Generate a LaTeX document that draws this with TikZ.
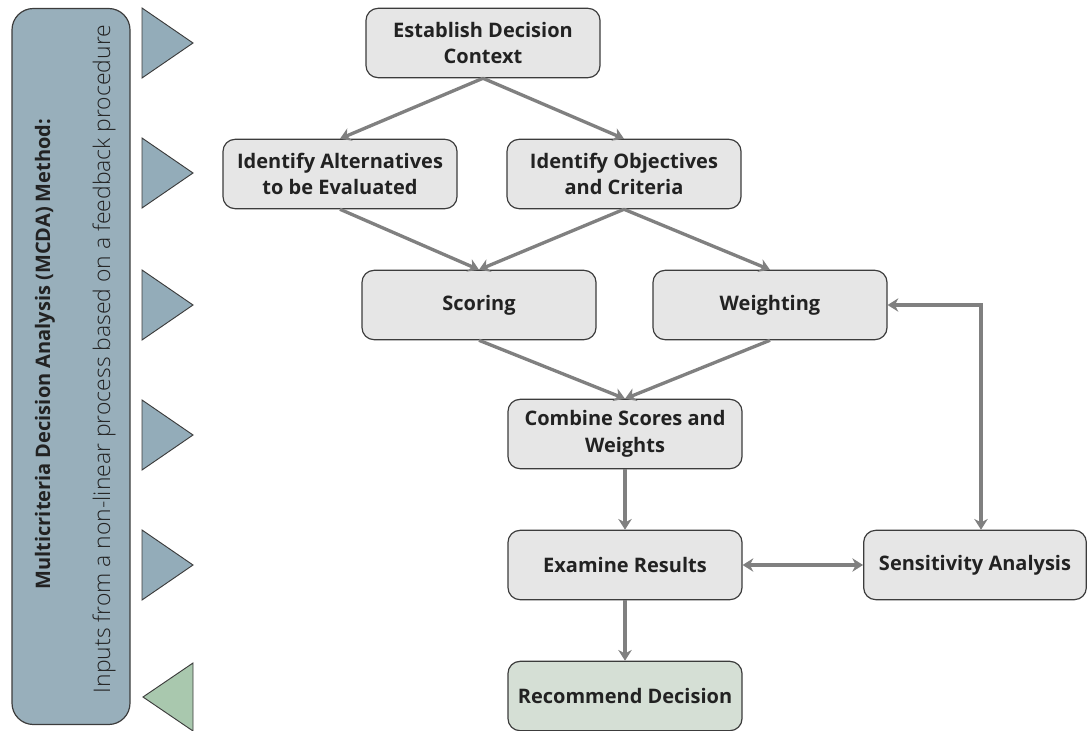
\documentclass[tikz,border=0pt]{standalone}
\usepackage{fontspec}
\setmainfont{Open Sans}
\IfFontExistsTF{Open Sans Light}{\newfontfamily\lightfont{Open Sans Light}}{\newfontfamily\lightfont{Open Sans}}
\usetikzlibrary{arrows.meta}
\definecolor{boxfill}{HTML}{E6E6E6}
\definecolor{boxline}{HTML}{3C3C3C}
\definecolor{arrowgray}{HTML}{808080}
\definecolor{barblue}{HTML}{98AFBB}
\definecolor{markblue}{HTML}{93ACB9}
\definecolor{markgreen}{HTML}{A9C8AE}
\definecolor{endfill}{HTML}{D5DFD5}
\definecolor{textdark}{HTML}{222222}

\begin{document}
\begin{tikzpicture}[x=0.75pt,y=-0.75pt]
\tikzset{
  stepnode/.style={draw=boxline,fill=boxfill,line width=0.9pt,rounded corners=9pt,
    minimum width=175.5pt,minimum height=52pt,inner sep=2pt,align=center,
    text=textdark,font=\fontsize{15}{20}\selectfont\bfseries},
  flow/.style={-{Stealth[length=8pt,width=10pt,inset=2.5pt]},draw=arrowgray,line width=2.5pt},
  twoway/.style={flow,{Stealth[length=8pt,width=10pt,inset=2.5pt]}-{Stealth[length=8pt,width=10pt,inset=2.5pt]}},
  marker/.style={draw=boxline,fill=markblue,line width=0.7pt,line join=miter}
}
\useasboundingbox (0,0) rectangle (1088,731);
% side bar
\node[draw=boxline,fill=barblue,line width=0.9pt,rounded corners=16pt,
  minimum width=88.5pt,minimum height=537pt] (n_bar) at (71,366.5) {};
\node[rotate=90,text=textdark,font=\fontsize{15}{18}\selectfont\bfseries] (n_title) at (45,354)
  {Multicriteria Decision Analysis (MCDA) Method:};
\node[rotate=90,text=textdark,font=\fontsize{17.2}{20}\selectfont\lightfont] (n_sub) at (104,359)
  {Inputs from a non-linear process based on a feedback procedure};
% markers
\foreach \ty in {43,173,305,435,565}
  \draw[marker] (142,\ty-35) -- (193,\ty) -- (142,\ty+35) -- cycle;
\draw[marker,fill=markgreen] (193,663) -- (143,697) -- (193,731) -- cycle;
% steps
\node[stepnode] (n_context) at (483,43) {Establish Decision\\Context};
\node[stepnode] (n_alt) at (340,174) {Identify Alternatives\\to be Evaluated};
\node[stepnode] (n_obj) at (624,174) {Identify Objectives\\and Criteria};
\node[stepnode] (n_score) at (479,305) {Scoring};
\node[stepnode] (n_weight) at (770,305) {Weighting};
\node[stepnode] (n_comb) at (625,434) {Combine Scores and\\Weights};
\node[stepnode] (n_exam) at (625,565) {Examine Results};
\node[stepnode,minimum width=167pt] (n_sens) at (975,565) {Sensitivity Analysis};
\node[stepnode,fill=endfill] (n_rec) at (625,696) {Recommend Decision};
\coordinate (c_turn) at (981,305);
% connectors
\draw[flow] (n_context.south) -- (n_alt.north);
\draw[flow] (n_context.south) -- (n_obj.north);
\draw[flow] (n_alt.south) -- (n_score.north);
\draw[flow] (n_obj.south) -- (n_score.north);
\draw[flow] (n_obj.south) -- (n_weight.north);
\draw[flow] (n_score.south) -- (n_comb.north);
\draw[flow] (n_weight.south) -- (n_comb.north);
\draw[flow] (n_comb.south) -- (n_exam.north);
\draw[flow] (n_exam.south) -- (n_rec.north);
\draw[twoway] (n_exam.east) -- (n_sens.west);
\draw[twoway] (n_weight.east) -- (c_turn) -- (c_turn |- n_sens.north);
\end{tikzpicture}
\end{document}
